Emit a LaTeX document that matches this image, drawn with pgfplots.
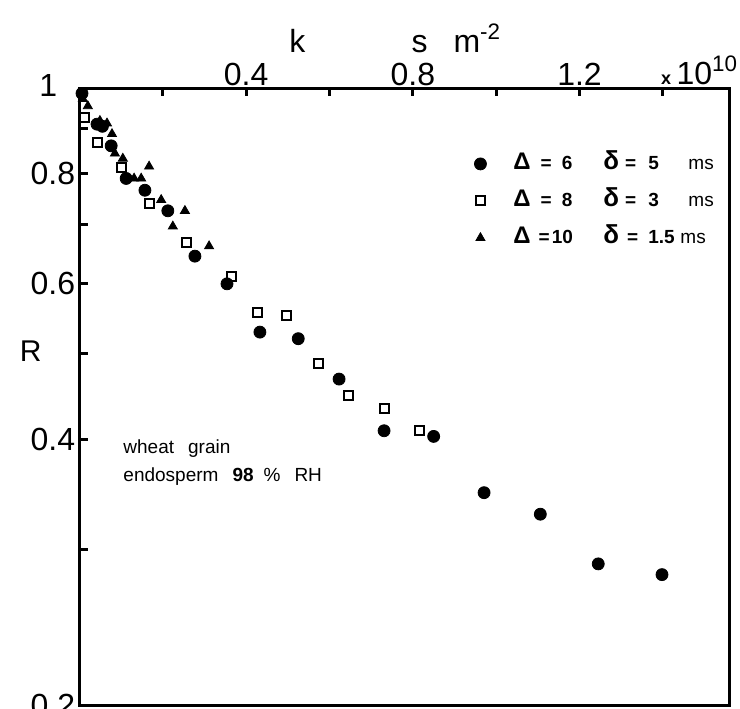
\documentclass[border=0pt]{standalone}
\usepackage{fontspec}
\setmainfont{Liberation Sans}
\usepackage{pgfplots}
\pgfplotsset{compat=1.18}
\newcommand{\bigD}{{\fontsize{12}{12}\selectfont Δ}}
\newcommand{\bigd}{{\fontsize{13}{12}\selectfont δ}}
\begin{document}
\begin{tikzpicture}
\begin{axis}[
  scale only axis,
  width=325pt, height=308.5pt,
  ymode=log,
  xmin=0, xmax=1.56, ymin=0.2, ymax=1,
  axis line style={line width=1.5pt},
  xtick={0.2,0.4,0.6,0.8,1.0,1.2,1.4},
  xticklabels={,0.4,,0.8,,1.2,},
  ytick={0.2,0.3,0.4,0.5,0.6,0.7,0.8,0.9,1},
  yticklabels={0.2,,0.4,,0.6,,0.8,,\raisebox{3pt}{1\kern9pt}},
  minor ytick={},
  xtick pos=right, ytick pos=left,
  xticklabel pos=right,
  tick align=inside,
  major tick length=4pt,
  tick style={line width=1.5pt, black},
  tick label style={font=\fontsize{16}{18}\selectfont},
  xticklabel style={inner sep=1pt},
  yticklabel style={inner sep=2pt},
  /pgf/number format/assume math mode=true,
  clip=false,
  legend cell align=left,
  legend style={draw=none, fill=none, inner sep=0pt, at={(rel axis cs:0.607,0.817)}, anchor=west,
    font=\fontsize{9.5}{11}\selectfont, row sep=4.5pt,
    nodes={inner sep=2pt, text height=8pt, text depth=2pt}},
]
\addplot[only marks, mark=*, mark size=3pt, black] coordinates {
  (0.006,0.986) (0.042,0.910) (0.055,0.905) (0.076,0.860) (0.112,0.790)
  (0.157,0.766) (0.212,0.726) (0.277,0.645) (0.354,0.600) (0.433,0.529)
  (0.525,0.520) (0.623,0.468) (0.731,0.409) (0.850,0.403) (0.971,0.348)
  (1.106,0.329) (1.245,0.289) (1.398,0.281)
};
\addlegendentry{\hspace{11.5pt}\makebox[45pt][l]{\textbf{\bigD\hspace{5pt}=\hspace{5pt}6}}\makebox[42.5pt][l]{\textbf{\bigd\hspace{3pt}=\hspace{6pt}5}}ms}
\addplot[only marks, mark=square, mark size=2.25pt, black, line width=1pt] coordinates {
  (0.013,0.925) (0.044,0.867) (0.102,0.812) (0.167,0.739) (0.256,0.669)
  (0.366,0.612) (0.428,0.557) (0.496,0.552) (0.573,0.488) (0.645,0.448)
  (0.731,0.434) (0.815,0.409)
};
\addlegendentry{\hspace{11.5pt}\makebox[45pt][l]{\textbf{\bigD\hspace{5pt}=\hspace{5pt}8}}\makebox[42.5pt][l]{\textbf{\bigd\hspace{3pt}=\hspace{6pt}3}}ms}
\addplot[only marks, mark=triangle*, mark size=2.6pt, black] coordinates {
  (0.008,0.972) (0.020,0.954) (0.049,0.918) (0.066,0.912) (0.078,0.887)
  (0.085,0.843) (0.104,0.832) (0.131,0.790) (0.148,0.790) (0.167,0.815)
  (0.196,0.747) (0.224,0.697) (0.253,0.726) (0.311,0.662)
};
\addlegendentry{\hspace{11.5pt}\makebox[45pt][l]{\textbf{\bigD\hspace{4pt}=\hspace{1pt}10}}\makebox[38.5pt][l]{\textbf{\bigd\hspace{4pt}=\hspace{5pt}1.5}}ms}
\coordinate (O) at (rel axis cs:0,0);
\node[anchor=base, font=\fontsize{16}{18}\selectfont] at (rel axis cs:0.335,1) [yshift=18pt] {k};
\node[anchor=base west, font=\fontsize{16}{18}\selectfont] at (rel axis cs:0.5,1) [yshift=18pt] {s\hspace{13pt}m\textsuperscript{-2}};
\node[anchor=base east, font=\fontsize{16}{18}\selectfont, inner sep=0pt] at (rel axis cs:1,1) [xshift=4.5pt, yshift=2pt] {\textbf{\small x}\,10\textsuperscript{10}};
\node[font=\fontsize{15}{18}\selectfont] at (rel axis cs:-0.075,0.573) {R};
\node[anchor=west, align=left, font=\fontsize{9.5}{14}\selectfont, inner sep=0pt] at (rel axis cs:0.067,0.393)
  {wheat\hspace{7pt}grain\\endosperm\hspace{7pt}\textbf{98}\hspace{5pt}\%\hspace{7pt}RH};
\end{axis}
\pgfresetboundingbox
\path[use as bounding box] ([xshift=-39.75pt,yshift=-1.5pt]O) rectangle ([xshift=330.25pt,yshift=352.5pt]O);
\end{tikzpicture}
\end{document}
